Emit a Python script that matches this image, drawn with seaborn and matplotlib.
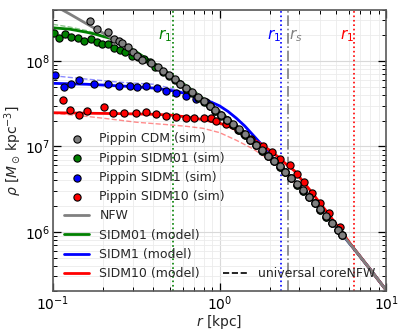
import matplotlib
matplotlib.use("Agg")
import matplotlib.pyplot as plt
from matplotlib.lines import Line2D
import seaborn as sns


############### simulation profiles
r_cdm = [0.167, 0.183, 0.213, 0.232, 0.249, 0.261, 0.282, 0.300, 0.321, 0.344,
         0.386, 0.424, 0.457, 0.495, 0.537, 0.582, 0.631, 0.684, 0.741, 0.804,
         0.871, 0.944, 1.023, 1.109, 1.202, 1.303, 1.413, 1.531, 1.660, 1.799,
         1.950, 2.113, 2.291, 2.483, 2.692, 2.917, 3.162, 3.428, 3.715, 4.027,
         4.365, 4.732, 5.129, 5.433]
rho_cdm = [2.96e8, 2.37e8, 2.17e8, 1.81e8, 1.73e8, 1.64e8, 1.47e8, 1.29e8, 1.14e8, 1.03e8,
           9.4e7, 8.44e7, 7.59e7, 6.82e7, 6.10e7, 5.43e7, 4.81e7, 4.29e7, 3.80e7, 3.39e7,
           3.00e7, 2.65e7, 2.34e7, 2.06e7, 1.81e7, 1.58e7, 1.38e7, 1.205e7, 1.047e7, 9.04e6,
           7.80e6, 6.73e6, 5.82e6, 5.01e6, 4.27e6, 3.61e6, 3.07e6, 2.58e6, 2.17e6, 1.83e6,
           1.52e6, 1.27e6, 1.05e6, 9.19e5]

r_sidm01 = [0.101, 0.108, 0.118, 0.129, 0.141, 0.153, 0.169, 0.183, 0.197, 0.213,
            0.233, 0.253, 0.270, 0.297, 0.323, 0.351, 0.381, 0.408,
            0.457, 0.495, 0.537, 0.582, 0.631, 0.684, 0.741, 0.804,
            0.871, 0.944, 1.023, 1.109, 1.202, 1.303, 1.413, 1.531, 1.660, 1.799,
            1.950, 2.113, 2.291, 2.483, 2.692, 2.917, 3.162, 3.428, 3.715, 4.027,
            4.365, 4.732, 5.129, 5.433]
rho_sidm01 = [2.11e8, 1.84e8, 2.05e8, 1.89e8, 1.84e8, 1.73e8, 1.79e8, 1.66e8, 1.58e8, 1.58e8,
              1.43e8, 1.35e8, 1.26e8, 1.14e8, 1.11e8, 1.05e8, 9.73e7, 8.51e7,
              7.45e7, 6.70e7, 5.98e7, 5.33e7, 4.72e7, 4.21e7, 3.73e7, 3.33e7,
              2.95e7, 2.61e7, 2.30e7, 2.03e7, 1.78e7, 1.56e7, 1.36e7, 1.19e7, 1.03e7, 8.92e6,
              7.72e6, 6.66e6, 5.76e6, 4.96e6, 4.23e6, 3.58e6, 3.04e6, 2.56e6, 2.15e6, 1.81e6,
              1.51e6, 1.26e6, 1.04e6, 9.1e5]

r_sidm1 = [0.103, 0.116, 0.129, 0.144, 0.177, 0.213, 0.249, 0.289, 0.318, 0.360,
           0.420, 0.475, 0.546, 0.626, 0.718, 0.824,
           0.871, 0.944, 1.023, 1.109, 1.202, 1.303, 1.413, 1.531, 1.660, 1.799,
           1.950, 2.113, 2.291, 2.483, 2.692, 2.917, 3.162, 3.428, 3.715, 4.027,
           4.365, 4.732, 5.129, 5.433]
rho_sidm1 = [6.86e7, 4.92e7, 5.38e7, 6.00e7, 5.38e7, 5.34e7, 5.14e7, 5.10e7, 5.01e7, 5.10e7,
             4.80e7, 4.50e7, 4.26e7, 3.90e7, 3.57e7, 3.29e7,
             2.97e7, 2.62e7, 2.32e7, 2.04e7, 1.79e7, 1.56e7, 1.37e7, 1.19e7, 1.04e7, 8.95e6,
             7.72e6, 6.66e6, 5.76e6, 4.96e6, 4.23e6, 3.57e6, 3.04e6, 2.55e6, 2.15e6, 1.81e6,
             1.50e6, 1.26e6, 1.04e6, 9.1e5]

r_sidm10 = [0.114, 0.127, 0.144, 0.160, 0.201, 0.228, 0.265, 0.314, 0.360, 0.414,
            0.475, 0.546, 0.626, 0.701, 0.805, 0.883, 0.946, 1.086, 1.282, 1.40,
            1.534, 1.83, 2.068, 2.318, 2.661, 2.918, 3.198, 3.590, 4.024, 4.516, 5.306]
rho_sidm10 = [3.50e7, 2.67e7, 2.34e7, 2.62e7, 2.87e7, 2.44e7, 2.44e7, 2.48e7, 2.51e7, 2.40e7,
              2.27e7, 2.23e7, 2.14e7, 2.14e7, 2.14e7, 2.14e7, 1.97e7, 1.82e7, 1.56e7, 1.40e7,
              1.23e7, 1.02e7, 8.69e6, 7.14e6, 6.08e6, 4.73e6, 3.87e6, 2.84e6, 2.17e6, 1.66e6, 1.15e6]

############### model curves
r_nfw = [0.1, 0.126, 0.158, 0.2, 0.251, 0.316, 0.398, 0.501, 0.631, 0.794, 1.0,
         1.26, 1.58, 2.0, 2.51, 3.16, 3.98, 5.01, 6.31, 7.94, 10.0]
rho_nfw = [4.55e8, 3.55e8, 2.75e8, 2.12e8, 1.625e8, 1.234e8, 9.27e7, 6.88e7, 5.03e7, 3.62e7, 2.553e7,
           1.763e7, 1.191e7, 7.835e6, 5.02e6, 3.14e6, 1.91e6, 1.133e6, 6.56e5, 3.72e5, 2.07e5]

r_m01 = [0.1, 0.126, 0.158, 0.178, 0.2, 0.224, 0.251, 0.282, 0.316, 0.355, 0.398, 0.501,
         0.631, 0.794, 1.0, 1.26, 1.58, 2.0, 2.51, 3.16, 3.98, 5.01, 6.31, 7.94, 10.0]
rho_m01 = [2.45e8, 2.36e8, 2.18e8, 2.07e8, 1.94e8, 1.83e8, 1.66e8, 1.46e8, 1.28e8, 1.10e8, 9.55e7, 7.05e7,
           5.12e7, 3.66e7, 2.56e7, 1.763e7, 1.191e7, 7.835e6, 5.02e6, 3.14e6, 1.91e6, 1.133e6,
           6.56e5, 3.72e5, 2.07e5]
r_u01 = [0.1, 0.126, 0.158, 0.2, 0.224, 0.251, 0.282, 0.316, 0.398, 0.501]
rho_u01 = [2.69e8, 2.50e8, 2.28e8, 2.00e8, 1.86e8, 1.68e8, 1.47e8, 1.28e8, 9.5e7, 7.0e7]

r_m1 = [0.1, 0.158, 0.251, 0.398, 0.501, 0.631, 0.718, 0.794, 0.891, 1.0, 1.122, 1.26,
        1.413, 1.58, 1.78, 2.0, 2.24, 2.51, 3.16, 3.98, 5.01, 6.31, 7.94, 10.0]
rho_m1 = [5.48e7, 5.35e7, 5.12e7, 4.83e7, 4.55e7, 4.15e7, 3.80e7, 3.55e7, 3.30e7, 2.98e7, 2.57e7, 2.14e7,
          1.74e7, 1.37e7, 1.06e7, 8.0e6, 6.3e6, 5.02e6, 3.14e6, 1.91e6, 1.133e6, 6.56e5, 3.72e5, 2.07e5]
r_u1 = [0.1, 0.158, 0.251, 0.398, 0.501, 0.631, 0.794]
rho_u1 = [6.73e7, 6.15e7, 5.65e7, 5.35e7, 4.85e7, 4.22e7, 3.55e7]

r_m10 = [0.1, 0.251, 0.398, 0.501, 0.631, 0.794, 1.0, 1.122, 1.26, 1.413, 1.58, 1.78, 2.0,
         2.24, 2.51, 2.82, 3.16, 3.55, 3.98, 4.47, 5.01, 5.62, 6.31, 7.94, 10.0]
rho_m10 = [2.48e7, 2.42e7, 2.38e7, 2.33e7, 2.22e7, 2.06e7, 1.87e7, 1.73e7, 1.56e7, 1.38e7, 1.21e7, 1.06e7, 9.0e6,
           7.55e6, 6.2e6, 5.15e6, 3.9e6, 2.95e6, 2.2e6, 1.65e6, 1.22e6, 9.0e5, 6.6e5, 3.72e5, 2.07e5]
r_u10 = [0.1, 0.126, 0.158, 0.2, 0.251, 0.316, 0.501, 0.631, 0.794, 1.0, 1.26, 1.58, 2.0,
         2.51, 3.16, 3.98, 5.01, 6.31, 7.94, 10.0]
rho_u10 = [2.44e7, 2.35e7, 2.25e7, 2.14e7, 2.03e7, 1.92e7, 1.79e7, 1.72e7, 1.63e7, 1.45e7, 1.18e7, 9.4e6, 6.9e6,
           4.7e6, 3.0e6, 1.86e6, 1.12e6, 6.5e5, 3.72e5, 2.07e5]

############### characteristic radii
r1_sidm01 = 0.523
r1_sidm1 = 2.35
r1_sidm10 = 6.43
r_s = 2.58


sns.set_style("whitegrid", {"axes.edgecolor": "0.35", "xtick.direction": "in",
                            "ytick.direction": "in", "xtick.top": True, "ytick.right": True,
                            "xtick.bottom": True, "ytick.left": True})

fig = plt.figure(figsize=(3.99, 3.32), dpi=100)
ax = fig.add_axes([0.133, 0.122, 0.835, 0.849])

# simulation points (added first so they lead the legend)
sims = [(r_cdm, rho_cdm, "gray", "Pippin CDM (sim)", 3.4),
        (r_sidm01, rho_sidm01, "green", "Pippin SIDM01 (sim)", 3.3),
        (r_sidm1, rho_sidm1, "blue", "Pippin SIDM1 (sim)", 3.2),
        (r_sidm10, rho_sidm10, "red", "Pippin SIDM10 (sim)", 3.1)]
for r, rho, c, lab, z in sims:
    sns.scatterplot(x=r, y=rho, color=c, edgecolor="k", linewidth=0.8, s=27,
                    label=lab, zorder=z, ax=ax)

# universal coreNFW (dashed, faint)
for r, rho, c in [(r_u01, rho_u01, "green"), (r_u1, rho_u1, "blue"), (r_u10, rho_u10, "red")]:
    ax.plot(r, rho, color=c, ls="--", lw=1.0, alpha=0.45, zorder=1.8)

sns.lineplot(x=r_nfw, y=rho_nfw, color="gray", lw=2, label="NFW", zorder=2.5, ax=ax)
sns.lineplot(x=r_m01, y=rho_m01, color="green", lw=2, label="SIDM01 (model)", zorder=2, ax=ax)
sns.lineplot(x=r_m1, y=rho_m1, color="blue", lw=2, label="SIDM1 (model)", zorder=2, ax=ax)
sns.lineplot(x=r_m10, y=rho_m10, color="red", lw=2, label="SIDM10 (model)", zorder=2, ax=ax)

ax.set_xscale("log")
ax.set_yscale("log")
ax.set_xlim(0.1, 10)
ax.set_ylim(2e5, 4e8)

# characteristic radii
ax.axvline(r1_sidm01, color="green", ls=":", lw=1.2, zorder=1.5)
ax.axvline(r1_sidm1, color="blue", ls=":", lw=1.2, zorder=1.5)
ax.axvline(r1_sidm10, color="red", ls=":", lw=1.2, zorder=1.5)
ax.axvline(r_s, color="gray", ls="-.", lw=1.2, zorder=1.5)
ax.text(r1_sidm01 * 0.99, 2.0e8, r"$r_1$", color="green", ha="right", va="center", fontsize=11)
ax.text(r1_sidm1 * 0.99, 2.0e8, r"$r_1$", color="blue", ha="right", va="center", fontsize=11)
ax.text(r_s * 1.01, 2.0e8, r"$r_s$", color="gray", ha="left", va="center", fontsize=11)
ax.text(r1_sidm10 * 0.99, 2.0e8, r"$r_1$", color="red", ha="right", va="center", fontsize=11)

ax.grid(True, which="major", color="0.85", lw=0.8)
ax.grid(True, which="minor", color="0.92", lw=0.6)
ax.tick_params(which="both", direction="in", top=True, right=True, colors="k")
ax.tick_params(which="major", length=6, width=0.9, labelsize=10, pad=2)
ax.tick_params(which="minor", length=3, width=0.7)
for sp in ax.spines.values():
    sp.set_linewidth(1.2)
    sp.set_color("0.35")

ax.set_xlabel(r"$r$ [kpc]", fontsize=10, labelpad=0)
ax.set_ylabel(r"$\rho$ [$M_\odot\,$kpc$^{-3}$]", fontsize=10, labelpad=1)

handles, labels = ax.get_legend_handles_labels()
leg1 = ax.legend(handles, labels, loc="lower left", frameon=False, fontsize=9)
ax.add_artist(leg1)
dash = Line2D([], [], color="k", ls="--", lw=1.2)
ax.legend([dash], ["universal coreNFW"], loc="lower right", frameon=False, fontsize=9)

plt.savefig("out.png", dpi=100)
